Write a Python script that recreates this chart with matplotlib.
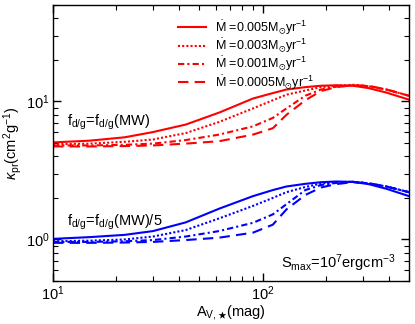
import matplotlib
matplotlib.use("Agg")
import matplotlib.pyplot as plt
from matplotlib.ticker import LogLocator, NullFormatter

plt.rcParams['font.family'] = ['Liberation Sans', 'DejaVu Sans']
plt.rcParams['mathtext.fontset'] = 'custom'
plt.rcParams['mathtext.rm'] = 'Liberation Sans'
plt.rcParams['mathtext.it'] = 'Liberation Sans:italic'
plt.rcParams['mathtext.bf'] = 'Liberation Sans:bold'
plt.rcParams['mathtext.fallback'] = 'stixsans'

# A_V,* (mag)
av = [10, 15, 22, 30, 43, 62, 90, 112, 130, 160, 190, 225, 270, 320, 390, 500]

# MW dust-to-gas ratio (red)
red_0005 = [5.05, 5.2, 5.5, 6.0, 6.8, 8.3, 10.5, 11.5, 12.2, 12.7, 13.0, 13.1, 13.0, 12.5, 11.6, 10.3]
red_0003 = [4.9, 4.95, 5.1, 5.3, 5.9, 7.1, 8.9, 10.2, 11.2, 12.0, 12.7, 13.0, 13.2, 12.9, 12.2, 11.0]
red_0001 = [4.8, 4.8, 4.85, 4.95, 5.25, 5.75, 6.6, 7.6, 8.9, 11.0, 12.2, 12.8, 13.1, 12.9, 12.2, 11.0]
red_00005 = [4.72, 4.72, 4.75, 4.8, 4.95, 5.15, 5.75, 6.4, 8.0, 10.2, 11.9, 12.7, 13.1, 13.0, 12.2, 11.0]

# MW/5 dust-to-gas ratio (blue)
blue_0005 = [1.01, 1.04, 1.08, 1.15, 1.33, 1.67, 2.06, 2.28, 2.42, 2.53, 2.6, 2.63, 2.61, 2.52, 2.33, 2.06]
blue_0003 = [0.97, 0.98, 1.0, 1.05, 1.17, 1.42, 1.75, 2.0, 2.2, 2.4, 2.54, 2.6, 2.62, 2.55, 2.42, 2.2]
blue_0001 = [0.96, 0.96, 0.97, 0.99, 1.05, 1.15, 1.32, 1.52, 1.8, 2.28, 2.48, 2.57, 2.62, 2.55, 2.42, 2.2]
blue_00005 = [0.945, 0.945, 0.95, 0.96, 0.99, 1.03, 1.12, 1.28, 1.65, 2.1, 2.38, 2.52, 2.6, 2.56, 2.42, 2.2]

labels = [r"$\dot{\rm M}$ =0.005M$_{\odot}$yr$^{-1}$",
          r"$\dot{\rm M}$ =0.003M$_{\odot}$yr$^{-1}$",
          r"$\dot{\rm M}$ =0.001M$_{\odot}$yr$^{-1}$",
          r"$\dot{\rm M}$ =0.0005M$_{\odot}$yr$^{-1}$"]

styles = ['-', (0, (1, 1)), (0, (3, 1.5, 1, 1.5)), (0, (5, 3))]

fig = plt.figure(figsize=(4.15, 3.24), dpi=100)
ax = fig.add_axes([53/415, 1-281/324, (409-53)/415, (281-5)/324])

for ys, ls, lab in zip([red_0005, red_0003, red_0001, red_00005], styles, labels):
    ax.plot(av, ys, color='red', ls=ls, lw=1.5, label=lab)
for ys, ls in zip([blue_0005, blue_0003, blue_0001, blue_00005], styles):
    ax.plot(av, ys, color='blue', ls=ls, lw=1.5)

ax.set_xscale('log')
ax.set_yscale('log')
ax.set_xlim(10, 500)
ax.set_ylim(0.5, 50)

ax.xaxis.set_major_locator(LogLocator(base=10, numticks=10))
ax.yaxis.set_major_locator(LogLocator(base=10, numticks=10))
ax.xaxis.set_minor_locator(LogLocator(base=10, subs=range(2, 10), numticks=20))
ax.yaxis.set_minor_locator(LogLocator(base=10, subs=range(2, 10), numticks=20))
ax.xaxis.set_minor_formatter(NullFormatter())
ax.yaxis.set_minor_formatter(NullFormatter())
ax.tick_params(which='both', direction='in', top=True, right=True, labelsize=10.5)
ax.tick_params(which='major', length=6, width=1, pad=2.5)
ax.tick_params(which='minor', length=3.5, width=0.8)
for s in ax.spines.values():
    s.set_linewidth(1)

ax.set_xlabel(r"A$_{\rm V,\bigstar}$(mag)", fontsize=10.5, labelpad=0)
ax.set_ylabel(r"$\kappa_{\rm pr}$(cm$^2$g$^{-1}$)", fontsize=10.5, labelpad=1)

ax.text(0.04, 0.576, r"f$_{\rm d/g}$=f$_{\rm d/g}$(MW)", transform=ax.transAxes,
        fontsize=10.5, ha='left', va='center')
ax.text(0.04, 0.214, r"f$_{\rm d/g}$=f$_{\rm d/g}$(MW)/5", transform=ax.transAxes,
        fontsize=10.5, ha='left', va='center')
ax.text(0.963, 0.065, r"S$_{\rm max}$=10$^7$ergcm$^{-3}$", transform=ax.transAxes,
        fontsize=10.5, ha='right', va='center')

ax.legend(loc='upper left', bbox_to_anchor=(0.315, 1.0), frameon=False,
          fontsize=9, handlelength=2.2, handletextpad=0.7,
          labelspacing=0.0, borderaxespad=0.65)

fig.savefig('out.png', dpi=100)
